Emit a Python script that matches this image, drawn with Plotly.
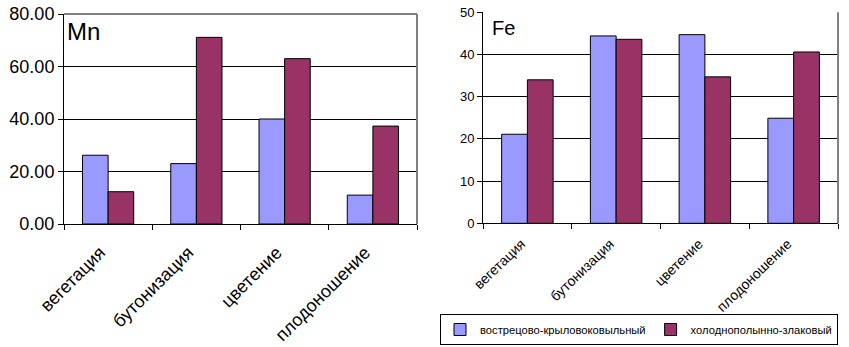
import plotly.graph_objects as go

categories = ["вегетация", "бутонизация", "цветение", "плодоношение"]
series_names = ["вострецово-крыловоковыльный", "холоднополынно-злаковый"]
mn_blue = [26.2, 23.0, 40.0, 11.0]
mn_red = [12.3, 71.1, 63.0, 37.3]
fe_blue = [21.1, 44.4, 44.7, 24.9]
fe_red = [34.0, 43.6, 34.7, 40.6]

BLUE = "#9999FF"
RED = "#993366"
FONT = "Liberation Sans, Arial, sans-serif"

fig = go.Figure()
fig.add_trace(go.Bar(x=categories, y=mn_blue, name=series_names[0], marker=dict(color=BLUE, line=dict(color="black", width=1)),
                     xaxis="x", yaxis="y", showlegend=True, legendgroup="a"))
fig.add_trace(go.Bar(x=categories, y=mn_red, name=series_names[1], marker=dict(color=RED, line=dict(color="black", width=1)),
                     xaxis="x", yaxis="y", showlegend=True, legendgroup="b"))
fig.add_trace(go.Bar(x=categories, y=fe_blue, name=series_names[0], marker=dict(color=BLUE, line=dict(color="black", width=1)),
                     xaxis="x2", yaxis="y2", showlegend=False, legendgroup="a"))
fig.add_trace(go.Bar(x=categories, y=fe_red, name=series_names[1], marker=dict(color=RED, line=dict(color="black", width=1)),
                     xaxis="x2", yaxis="y2", showlegend=False, legendgroup="b"))

W, H = 849, 347
xd1 = [64 / W, 417 / W]
xd2 = [483 / W, 838 / W]
yd1 = [1 - 224 / H, 1 - 14 / H]
yd2 = [1 - 223.3 / H, 1 - 12.3 / H]

xcommon = dict(type="category", showline=True, linecolor="black", linewidth=1, ticks="outside",
               tickson="boundaries", ticklen=5, tickcolor="black", showgrid=False, automargin=False)
ycommon = dict(showline=True, linecolor="black", linewidth=1, ticks="outside", ticklen=5, tickcolor="black",
               showgrid=True, gridcolor="black", gridwidth=1, zeroline=False, automargin=False)

fig.update_layout(
    width=W, height=H,
    margin=dict(l=0, r=0, t=0, b=0, autoexpand=False),
    paper_bgcolor="white", plot_bgcolor="white",
    font=dict(family=FONT, color="black"),
    barmode="group", bargap=0.42, bargroupgap=0,
    xaxis=dict(xcommon, domain=xd1, anchor="y", tickangle=-45, tickfont=dict(size=18),
               ticklabelstandoff=10, ticklabelshift=-8),
    yaxis=dict(ycommon, domain=yd1, anchor="x", range=[0, 80], dtick=20, tickformat=".2f", tickfont=dict(size=18)),
    xaxis2=dict(xcommon, domain=xd2, anchor="y2", tickangle=-44, tickfont=dict(size=14),
                ticklabelstandoff=6, ticklabelshift=-6),
    yaxis2=dict(ycommon, domain=yd2, anchor="x2", range=[0, 50], dtick=10, tickfont=dict(size=13)),
    legend=dict(orientation="h", x=440 / W, y=1 - 314 / H, xanchor="left", yanchor="top",
                bordercolor="black", borderwidth=1, font=dict(size=11.2), itemwidth=30,
                tracegroupgap=0, bgcolor="white"),
    annotations=[
        dict(text="Mn", xref="x domain", yref="y domain", x=0.003, y=0.99, xanchor="left", yanchor="top",
             showarrow=False, font=dict(size=24)),
        dict(text="Fe", xref="x2 domain", yref="y2 domain", x=0.02, y=0.985, xanchor="left", yanchor="top",
             showarrow=False, font=dict(size=20)),
    ],
    shapes=[
        dict(type="line", xref="x domain", yref="y domain", x0=0, x1=1, y0=1, y1=1, line=dict(color="#808080", width=2)),
        dict(type="line", xref="x domain", yref="y domain", x0=1, x1=1, y0=0, y1=1, line=dict(color="#808080", width=2)),
        dict(type="line", xref="x2 domain", yref="y2 domain", x0=1, x1=1, y0=0, y1=1, line=dict(color="#808080", width=2)),
    ],
)

fig.write_html("out.html", config={"displayModeBar": False},
               post_script="document.body.style.margin='0';document.body.style.overflow='hidden';")
